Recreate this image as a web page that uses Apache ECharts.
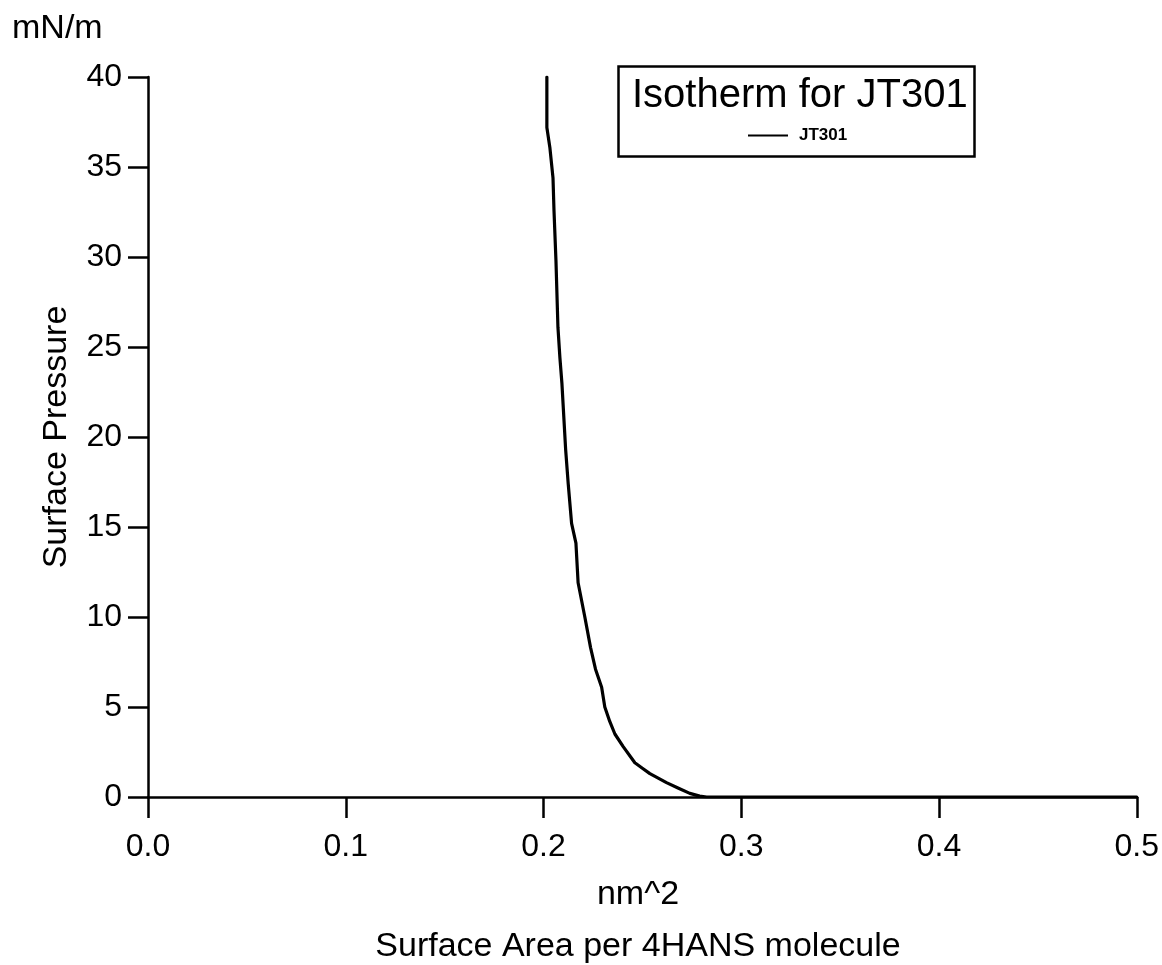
<!DOCTYPE html>
<html>
<head>
<meta charset="utf-8">
<title>Isotherm for JT301</title>
<script src="https://cdn.jsdelivr.net/npm/echarts@6/dist/echarts.min.js"></script>
<style>
  html, body { margin: 0; padding: 0; background: #fff; }
  #chart { width: 1162px; height: 965px; }
</style>
</head>
<body>
<div id="chart"></div>
<script>
// Surface area per molecule (nm^2) and surface pressure (mN/m) along the compression isotherm
const areaNm2 = [0.2017, 0.2017, 0.2032, 0.2048, 0.2053, 0.2063, 0.2073, 0.2083, 0.2093, 0.2112,
                 0.2125, 0.2142, 0.2164, 0.2175, 0.2209, 0.2238, 0.2263, 0.2294, 0.2310, 0.2335,
                 0.2361, 0.2403, 0.2462, 0.2500, 0.2538, 0.2580, 0.2622, 0.2680, 0.2740, 0.2790,
                 0.2825, 0.5];
const pressure = [40.0, 37.2, 36.1, 34.4, 32.6, 29.8, 26.1, 24.4, 23.0, 19.3,
                  17.4, 15.2, 14.1, 11.9, 10.0, 8.3, 7.1, 6.1, 5.0, 4.2,
                  3.5, 2.8, 1.9, 1.6, 1.3, 1.05, 0.8, 0.5, 0.2, 0.05,
                  0.0, 0.0];
const seriesName = 'JT301';
const chartTitle = 'Isotherm for JT301';
const xUnit = 'nm^2';
const xTitle = 'Surface Area per 4HANS molecule';
const yTitle = 'Surface Pressure';
const yUnit = 'mN/m';

const FONT = '"Liberation Sans", Arial, sans-serif';
const points = areaNm2.map((a, i) => [a, pressure[i]]);

const chart = echarts.init(document.getElementById('chart'), null, { renderer: 'canvas' });
chart.setOption({
  animation: false,
  backgroundColor: '#ffffff',
  textStyle: { fontFamily: FONT, color: '#000' },
  grid: { left: 148, right: 25, top: 77, bottom: 168, containLabel: false },
  title: {
    text: chartTitle,
    left: 627, top: 71,
    textStyle: { fontFamily: FONT, fontSize: 40, fontWeight: 'normal', color: '#000' }
  },
  legend: {
    data: [seriesName],
    left: 743, top: 122,
    icon: 'rect', itemWidth: 40, itemHeight: 2, itemGap: 0,
    textStyle: { fontFamily: FONT, fontSize: 17, fontWeight: 'bold', color: '#000', padding: [0, 0, 0, 6] }
  },
  xAxis: {
    type: 'value', min: 0, max: 0.5, interval: 0.1,
    axisLine: { show: true, onZero: false, lineStyle: { color: '#000', width: 2.5 } },
    axisTick: { show: true, inside: false, length: 21, lineStyle: { color: '#000', width: 2.5 } },
    axisLabel: { fontFamily: FONT, fontSize: 32, color: '#000', margin: 34,
                 formatter: v => v.toFixed(1) },
    splitLine: { show: false }
  },
  yAxis: {
    type: 'value', min: 0, max: 40, interval: 5,
    axisLine: { show: true, onZero: false, lineStyle: { color: '#000', width: 2.5 } },
    axisTick: { show: true, inside: false, length: 20, lineStyle: { color: '#000', width: 2.5 } },
    axisLabel: { fontFamily: FONT, fontSize: 32, color: '#000', margin: 26 },
    splitLine: { show: false }
  },
  series: [{
    name: seriesName,
    type: 'line',
    data: points,
    symbol: 'none',
    smooth: false,
    lineStyle: { color: '#000', width: 3.2, join: 'round', cap: 'round' },
    itemStyle: { color: '#000' }
  }],
  graphic: [
    { type: 'rect', left: 616, top: 64, silent: true,
      shape: { width: 356, height: 90 },
      style: { fill: 'none', stroke: '#000', lineWidth: 2.5 } },
    { type: 'text', x: 12, y: 29,
      style: { text: yUnit, font: '34px ' + FONT, fill: '#000', textAlign: 'left', textVerticalAlign: 'middle' } },
    { type: 'text', x: 57, y: 437, rotation: Math.PI / 2,
      style: { text: yTitle, font: '34px ' + FONT, fill: '#000', textAlign: 'center', textVerticalAlign: 'middle' } },
    { type: 'text', x: 638, y: 895,
      style: { text: xUnit, font: '34px ' + FONT, fill: '#000', textAlign: 'center', textVerticalAlign: 'middle' } },
    { type: 'text', x: 638, y: 947,
      style: { text: xTitle, font: '34px ' + FONT, fill: '#000', textAlign: 'center', textVerticalAlign: 'middle' } }
  ]
});
</script>
</body>
</html>
